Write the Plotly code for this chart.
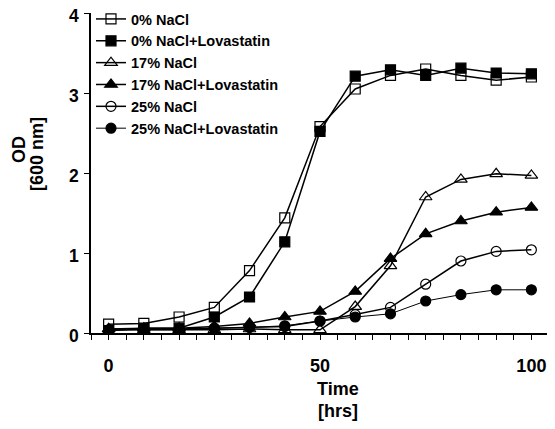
import plotly.graph_objects as go

time_hrs = [0, 8.33, 16.67, 25, 33.33, 41.67, 50, 58.33, 66.67, 75, 83.33, 91.67, 100]

series_names = ["0% NaCl", "0% NaCl+Lovastatin", "17% NaCl", "17% NaCl+Lovastatin",
                "25% NaCl", "25% NaCl+Lovastatin"]

nacl0 = [0.11, 0.12, 0.20, 0.32, 0.78, 1.44, 2.58, 3.05, 3.22, 3.30, 3.22, 3.16, 3.20]
nacl0_lov = [0.03, 0.06, 0.06, 0.20, 0.45, 1.14, 2.52, 3.21, 3.29, 3.22, 3.31, 3.25, 3.24]
nacl17 = [0.05, 0.04, 0.04, 0.04, 0.05, 0.04, 0.04, 0.33, 0.84, 1.70, 1.92, 1.99, 1.97]
nacl17_lov = [0.05, 0.06, 0.06, 0.08, 0.12, 0.20, 0.27, 0.52, 0.93, 1.24, 1.40, 1.51, 1.57]
nacl25 = [0.04, 0.05, 0.05, 0.06, 0.07, 0.08, 0.15, 0.23, 0.32, 0.61, 0.90, 1.02, 1.04]
nacl25_lov = [0.03, 0.04, 0.04, 0.06, 0.07, 0.09, 0.15, 0.20, 0.24, 0.40, 0.48, 0.54, 0.54]

x_tick_labels = {0: "0", 50: "50", 100: "100"}
y_tick_vals = [0, 1, 2, 3, 4]

series_values = [nacl0, nacl0_lov, nacl17, nacl17_lov, nacl25, nacl25_lov]
symbols = ["square-open", "square", "triangle-up-open", "triangle-up", "circle-open", "circle"]
sizes = [10, 10, 11, 11, 10, 10]
line_widths = [1.5, 1.5, 1.5, 1.5, 1.5, 1.0]

FONT = "Liberation Sans, Arial, sans-serif"

# page body has an 8px margin: figure sized to fit the window exactly
OFF = 8
W, H = 555 - OFF, 429 - OFF
# plot area in screen pixels: left 91, right 549, top 13, bottom 333
L, R, T, B = 91 - OFF, W - (549 - OFF), 13 - OFF, H - (333 - OFF)
PW, PH = W - L - R, H - T - B


def px_x(p):
    return (p - OFF - L) / PW


def px_y(p):
    return (H - B - (p - OFF)) / PH


fig = go.Figure()
for name, vals, sym, sz, lw in zip(series_names, series_values, symbols, sizes, line_widths):
    fig.add_trace(go.Scatter(
        x=time_hrs, y=vals, name=name, mode="lines+markers",
        line=dict(color="black", width=lw),
        marker=dict(symbol=sym, size=sz, color="black",
                    line=dict(color="black", width=1.2)),
    ))

step = 100 / 24
xt_vals = [round(-step + i * step, 4) for i in range(27)]
xt_text = [x_tick_labels.get(round(v), "") if abs(v - round(v)) < 1e-3 else "" for v in xt_vals]

title_font = dict(family=FONT, size=18, color="black", weight="bold")

fig.update_layout(
    width=W, height=H,
    margin=dict(l=L, r=R, t=T, b=B, autoexpand=False),
    paper_bgcolor="white", plot_bgcolor="white",
    font=dict(family=FONT, color="black"),
    showlegend=True,
    legend=dict(x=px_x(91), y=px_y(3), xanchor="left", yanchor="top",
                bgcolor="rgba(0,0,0,0)",
                font=dict(family=FONT, size=14.5, color="black", weight="bold"),
                itemwidth=30, tracegroupgap=0),
    xaxis=dict(range=[-step, 100 + step], tickmode="array",
               tickvals=xt_vals, ticktext=xt_text, automargin=False,
               ticks="outside", ticklen=5, tickwidth=1.3, tickcolor="black",
               showline=True, linecolor="black", linewidth=1.5,
               showgrid=False, zeroline=False, ticklabeloverflow="allow",
               tickfont=dict(family=FONT, size=18, color="black", weight="bold"),
               ticklabelstandoff=11),
    yaxis=dict(range=[0, 4], tickmode="array", tickvals=y_tick_vals,
               ticktext=[str(v) for v in y_tick_vals], automargin=False,
               ticks="outside", ticklen=5, tickwidth=1.3, tickcolor="black",
               showline=True, linecolor="black", linewidth=1.5,
               showgrid=False, zeroline=False, ticklabeloverflow="allow",
               tickfont=dict(family=FONT, size=17.5, color="black", weight="bold"),
               ticklabelstandoff=2, ticklabelshift=3),
    annotations=[
        dict(text="Time", xref="paper", yref="paper",
             x=px_x(338), y=px_y(389), xanchor="center", yanchor="middle",
             showarrow=False, font=title_font),
        dict(text="[hrs]", xref="paper", yref="paper",
             x=px_x(338), y=px_y(411), xanchor="center", yanchor="middle",
             showarrow=False, font=title_font),
        dict(text="OD", xref="paper", yref="paper",
             x=px_x(19), y=px_y(150), xanchor="center", yanchor="middle",
             textangle=-90, showarrow=False, font=title_font),
        dict(text="[600 nm]", xref="paper", yref="paper",
             x=px_x(37), y=px_y(154), xanchor="center", yanchor="middle",
             textangle=-90, showarrow=False, font=title_font),
    ],
)

fig.write_html("out.html")
